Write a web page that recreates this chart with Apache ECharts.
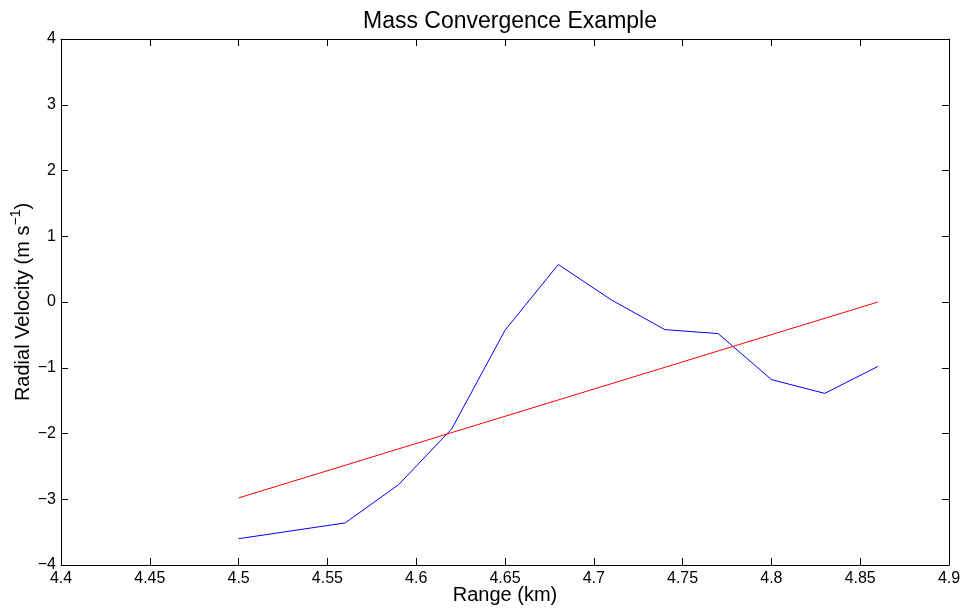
<!DOCTYPE html>
<html>
<head>
<meta charset="utf-8">
<script src="https://cdn.jsdelivr.net/npm/echarts@6/dist/echarts.min.js"></script>
<style>html,body{margin:0;padding:0;background:#fff}#c{width:964px;height:609px}</style>
</head>
<body>
<div id="c"></div>
<script>
var rangeKm = [4.50, 4.56, 4.59, 4.62, 4.65, 4.68, 4.71, 4.74, 4.77, 4.80, 4.83, 4.86];
var radialVelocity = [-3.60, -3.36, -2.78, -1.93, -0.43, 0.57, 0.03, -0.42, -0.48, -1.18, -1.39, -0.98];
var fitRange = [4.50, 4.86];
var fitVelocity = [-2.98, 0.00];
var titleText = 'Mass Convergence Example';
var xLabel = 'Range (km)';

var font = '"Liberation Sans", Arial, Helvetica, sans-serif';
function fmt(v){ var s = String(Math.round(v*1000)/1000); return v < 0 ? '\u2212' + s.slice(1) : s; }
function pairs(xs, ys){ return xs.map(function(x,i){ return [x, ys[i]]; }); }

var axisCommon = {
  axisLine: { show: true, onZero: false, lineStyle: { color: '#000', width: 1 } },
  axisTick: { show: true, inside: true, length: 7, lineStyle: { color: '#000', width: 1 } },
  splitLine: { show: false }
};

var chart = echarts.init(document.getElementById('c'), null, { renderer: 'canvas' });
chart.setOption({
  animation: false,
  backgroundColor: '#fff',
  title: { text: titleText, left: 505, top: 5, textAlign: 'center',
    textStyle: { fontFamily: font, fontSize: 23, fontWeight: 'normal', color: '#000' } },
  grid: { left: 61, right: 15, top: 39, bottom: 44, containLabel: false, outerBoundsMode: 'none' },
  xAxis: [
    Object.assign({ type: 'value', min: 4.4, max: 4.9, interval: 0.05, position: 'bottom',
      name: xLabel, nameLocation: 'middle', nameGap: 20, nameMoveOverlap: false,
      nameTextStyle: { fontFamily: font, fontSize: 20, color: '#000', verticalAlign: 'top' },
      axisLabel: { fontFamily: font, fontSize: 16, color: '#000', margin: 6, formatter: fmt } }, axisCommon),
    Object.assign({ type: 'value', min: 4.4, max: 4.9, interval: 0.05, position: 'top',
      axisLabel: { show: false } }, axisCommon)
  ],
  yAxis: [
    Object.assign({ type: 'value', min: -4, max: 4, interval: 1, position: 'left',
      name: '{n|Radial Velocity (m s}{s|\u22121}{n|)}', nameLocation: 'middle', nameGap: 28, nameMoveOverlap: false,
      nameTextStyle: { fontFamily: font, fontSize: 20, color: '#000',
        rich: { n: { fontFamily: font, fontSize: 20, color: '#000', verticalAlign: 'bottom', lineHeight: 24 },
                s: { fontFamily: font, fontSize: 14, color: '#000', verticalAlign: 'top', lineHeight: 24, padding: [0,0,14,0] } } },
      axisLabel: { fontFamily: font, fontSize: 16, color: '#000', margin: 5, formatter: fmt } }, axisCommon),
    Object.assign({ type: 'value', min: -4, max: 4, interval: 1, position: 'right',
      axisLabel: { show: false } }, axisCommon)
  ],
  series: [
    { type: 'line', data: pairs(rangeKm, radialVelocity), showSymbol: false, symbol: 'none',
      lineStyle: { color: '#0000ff', width: 1 }, xAxisIndex: 0, yAxisIndex: 0 },
    { type: 'line', data: pairs(fitRange, fitVelocity), showSymbol: false, symbol: 'none',
      lineStyle: { color: '#ff0000', width: 1 }, xAxisIndex: 0, yAxisIndex: 0 }
  ]
});
</script>
</body>
</html>
